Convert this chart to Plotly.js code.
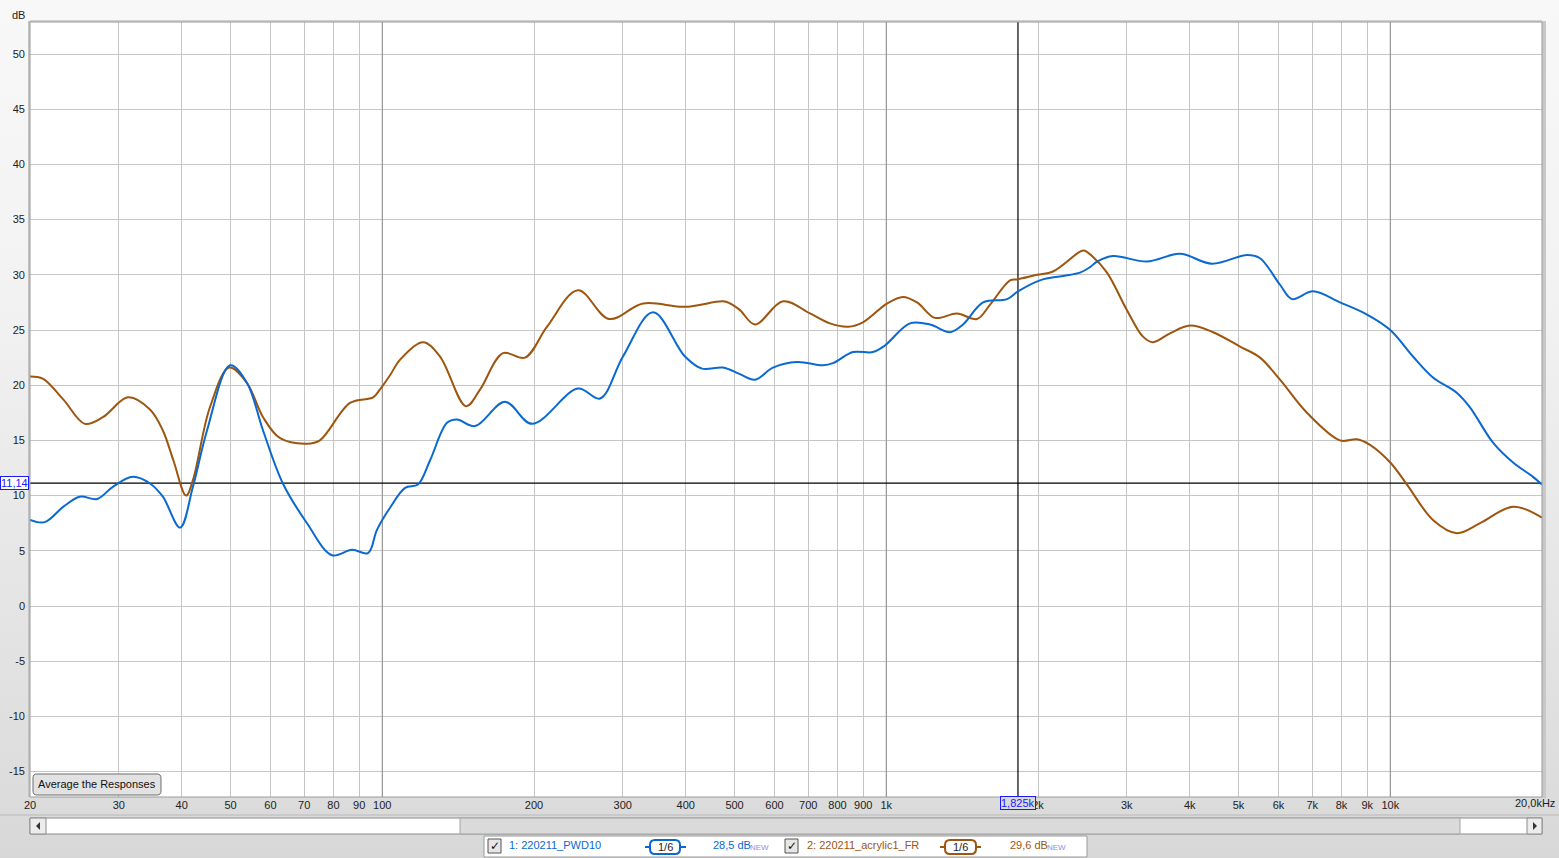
<!DOCTYPE html>
<html>
<head>
<meta charset="utf-8">
<script src="https://cdn.plot.ly/plotly-3.0.1.min.js"></script>
<style>
html,body{margin:0;padding:0;}
body{width:1559px;height:858px;overflow:hidden;
background:linear-gradient(to bottom,#f8f8f8 0px,#f2f2f2 300px,#dcdcdc 797px,#d7d7d7 858px);}
#chart{width:1559px;height:858px;}
</style>
</head>
<body>
<div id="chart"></div>
<script>
// ---- data ----
const blueName = "1: 220211_PWD10";
const brownName = "2: 220211_acrylic1_FR";
const blueFreq = [20, 21.4, 23.3, 25.1, 27.2, 29.2, 32.0, 34.6, 36.7, 39.7, 42.1, 44.9, 49.9, 53.9, 58.0, 63.5, 70.9, 79.5, 87.1, 93.7, 97.6, 103.6, 111, 117.7, 124.4, 134.4, 140.7, 152.8, 175.2, 198.2, 244.5, 270.4, 300.3, 344.5, 398.6, 430.9, 474.3, 512.5, 549, 596, 665, 749, 784, 859, 941, 994, 1114, 1221, 1338, 1420, 1556, 1736, 1825, 2018, 2242, 2423, 2537, 2619, 2817, 3291, 3826, 4429, 5198, 5515, 6042, 6383, 7025, 7948, 8992, 10000, 11092, 12152, 13563, 14392, 15989, 17525, 19195, 20000];
const blueDb = [7.8, 7.6, 9.0, 9.9, 9.7, 10.8, 11.7, 11.1, 9.9, 7.1, 10.8, 15.9, 21.8, 20.2, 15.9, 11.1, 7.5, 4.6, 5.1, 4.8, 6.9, 8.9, 10.7, 11.0, 13.2, 16.6, 16.9, 16.3, 18.5, 16.5, 19.7, 18.8, 22.6, 26.6, 22.6, 21.5, 21.6, 21.0, 20.5, 21.6, 22.1, 21.8, 22.0, 23.0, 23.0, 23.6, 25.6, 25.5, 24.8, 25.5, 27.5, 27.8, 28.5, 29.5, 29.9, 30.2, 30.7, 31.2, 31.7, 31.2, 31.9, 31.0, 31.8, 31.5, 29.1, 27.8, 28.5, 27.5, 26.4, 25.0, 22.6, 20.7, 19.3, 18.0, 14.8, 13.0, 11.7, 11.0];
const brownFreq = [20, 21.2, 23.3, 25.7, 27.9, 31.3, 34.6, 36.7, 38.5, 40.8, 42.1, 45.5, 49.7, 53.9, 58.0, 62.7, 70.9, 75.2, 86.3, 95.9, 98.9, 103.6, 108.4, 120.4, 130.2, 146.6, 156.3, 173.6, 191.9, 212.3, 244.5, 281.8, 329.2, 398.6, 474.3, 490, 512.5, 549, 624, 706, 773, 840, 899, 1003, 1079, 1151, 1249, 1381, 1514, 1607, 1760, 1825, 1991, 2142, 2423, 2470, 2560, 2741, 3003, 3231, 3382, 3656, 4005, 4450, 5034, 5515, 6042, 6835, 7948, 8589, 9115, 10000, 10792, 12152, 13563, 15068, 17525, 20000];
const brownDb = [20.8, 20.6, 18.7, 16.5, 17.1, 18.9, 17.8, 15.9, 13.2, 10.0, 11.4, 18.0, 21.6, 20.2, 17.1, 15.2, 14.7, 15.0, 18.4, 18.9, 19.6, 20.9, 22.3, 23.9, 22.6, 18.1, 19.6, 22.9, 22.5, 25.3, 28.6, 26.0, 27.4, 27.1, 27.6, 27.4, 26.8, 25.5, 27.6, 26.5, 25.6, 25.3, 25.7, 27.4, 28.0, 27.5, 26.1, 26.5, 26.0, 27.3, 29.5, 29.6, 30.0, 30.3, 32.1, 32.2, 31.7, 30.2, 26.8, 24.4, 23.9, 24.7, 25.4, 24.8, 23.5, 22.5, 20.5, 17.5, 15.0, 15.1, 14.6, 13.0, 11.0, 7.8, 6.6, 7.5, 9.0, 8.0];
const xTickVals = [20,30,40,50,60,70,80,90,100,200,300,400,500,600,700,800,900,1000,2000,3000,4000,5000,6000,7000,8000,9000,10000,20000];
const xTickText = ["20","30","40","50","60","70","80","90","100","200","300","400","500","600","700","800","900","1k","2k","3k","4k","5k","6k","7k","8k","9k","10k",""];
const yTickVals = [-15,-10,-5,0,5,10,15,20,25,30,35,40,45,50];
const yTickText = ["-15","-10","-5","0","5","10","15","20","25","30","35","40","45","50"];
const decadeFreqs = [100, 1000, 10000];
const cursorFreq = 1825;
const cursorDb = 11.14;
const cursorFreqLabel = "1,825k";
const cursorDbLabel = "11,14";
const blueLevel = "28,5 dB";
const brownLevel = "29,6 dB";
const smoothingLabel = "1/6";
const xRange = [20, 20000];
const yRange = [-17.3, 52.9];

// ---- styling / layout helpers ----
const BLUE = "#0a69d0", BROWN = "#9e550e";
const FONT = '"Liberation Sans", Arial, sans-serif';
const L = 30, R = 1542, T = 22, B = 797;
const px = x => (x - L) / (R - L);
const py = y => (B - y) / (B - T);

const traces = [];
decadeFreqs.forEach(f => traces.push({x:[f,f], y:yRange, mode:'lines', line:{color:'#8c8c8c', width:1}, hoverinfo:'skip', showlegend:false}));
traces.push({x:[cursorFreq,cursorFreq], y:yRange, mode:'lines', line:{color:'#000', width:1.2}, hoverinfo:'skip', showlegend:false});
traces.push({x:xRange, y:[cursorDb,cursorDb], mode:'lines', line:{color:'#000', width:1.2}, hoverinfo:'skip', showlegend:false});
traces.push({x:brownFreq, y:brownDb, name:brownName, mode:'lines', line:{color:BROWN, width:2, shape:'spline', smoothing:1}, showlegend:false});
traces.push({x:blueFreq, y:blueDb, name:blueName, mode:'lines', line:{color:BLUE, width:2, shape:'spline', smoothing:1}, showlegend:false});

function rectP(x0,y0,x1,y1,fill,line,lw,extra){
  return Object.assign({type:'rect', xref:'paper', yref:'paper', x0:px(x0), x1:px(x1), y0:py(y1), y1:py(y0),
    fillcolor:fill, line:{color:line, width:lw===undefined?1:lw}, layer:'above'}, extra||{});
}
function roundRect(x0,y0,x1,y1,r,fill,line,lw){
  const p = (x,y) => px(x).toFixed(5)+','+py(y).toFixed(5);
  const d = 'M'+p(x0+r,y0)+' L'+p(x1-r,y0)+' Q'+p(x1,y0)+' '+p(x1,y0+r)+' L'+p(x1,y1-r)+' Q'+p(x1,y1)+' '+p(x1-r,y1)+
            ' L'+p(x0+r,y1)+' Q'+p(x0,y1)+' '+p(x0,y1-r)+' L'+p(x0,y0+r)+' Q'+p(x0,y0)+' '+p(x0+r,y0)+' Z';
  return {type:'path', xref:'paper', yref:'paper', path:d, fillcolor:fill, line:{color:line, width:lw||1}, layer:'above'};
}
function lineP(x0,y0,x1,y1,color,w){
  return {type:'line', xref:'paper', yref:'paper', x0:px(x0), x1:px(x1), y0:py(y0), y1:py(y1), line:{color:color, width:w||1}, layer:'above'};
}
function txt(text,x,y,opts){
  return Object.assign({text:text, xref:'paper', yref:'paper', x:px(x), y:py(y), xanchor:'left', yanchor:'middle',
    showarrow:false, font:{family:FONT, size:11, color:'#222'}}, opts||{});
}

const shapes = [
  // plot frame with shadow
  rectP(L-2, T-1, L, B, '#c4c4c4', '#c4c4c4', 0),
  rectP(R, T-1, R+4, B+1, '#c8c8c8', '#c8c8c8', 0),
  rectP(L, T-2, R, T, '#d0d0d0', '#d0d0d0', 0),
  {type:'rect', xref:'paper', yref:'paper', x0:0, x1:1, y0:0, y1:1, line:{color:'#9a9a9a', width:1}, layer:'above'},
  // "Average the Responses" button
  roundRect(33, 774, 161, 795, 4, '#e2e2e2', '#6e6e6e', 1),
  // band separators at bottom
  lineP(0, 815, 1559, 815, '#b8b8b8', 1),
  // scrollbar
  rectP(30, 818, 1542, 834, '#ffffff', '#8c8c8c', 1),
  rectP(30, 818, 46, 834, '#ececec', '#8c8c8c', 1),
  rectP(460, 818, 1460, 834, '#dadada', '#a4a4a4', 1),
  rectP(1527, 818, 1542, 834, '#ececec', '#8c8c8c', 1),
  {type:'path', xref:'paper', yref:'paper', path:'M'+px(40)+','+py(822)+' L'+px(36)+','+py(826)+' L'+px(40)+','+py(830)+' Z', fillcolor:'#333', line:{width:0}, layer:'above'},
  {type:'path', xref:'paper', yref:'paper', path:'M'+px(1533)+','+py(822)+' L'+px(1537)+','+py(826)+' L'+px(1533)+','+py(830)+' Z', fillcolor:'#333', line:{width:0}, layer:'above'},
  // legend box
  rectP(484, 836, 1087, 857, '#ffffff', '#9a9a9a', 1),
  rectP(488, 839, 501, 853, '#e6e6e6', '#555555', 1),
  rectP(785, 839, 798, 853, '#e6e6e6', '#555555', 1),
  lineP(645, 847, 686, 847, BLUE, 2),
  roundRect(650, 840, 680, 854, 5, '#ffffff', BLUE, 2),
  lineP(940, 847, 981, 847, BROWN, 2),
  roundRect(945, 840, 976, 854, 5, '#ffffff', BROWN, 2)
];

const annotations = [
  txt('dB', 18, 15, {xanchor:'center'}),
  txt('Average the Responses', 97, 784, {xanchor:'center', font:{family:FONT, size:11, color:'#111'}}),
  txt('20,0kHz', 1557, 803, {xanchor:'right'}),
  // cursor labels
  {text:cursorFreqLabel, xref:'x', yref:'paper', x:Math.log10(cursorFreq), y:py(803), xanchor:'center', yanchor:'middle',
   showarrow:false, font:{family:FONT, size:11, color:'#1a1aff'}, bgcolor:'#dadada', bordercolor:'#1a1aff', borderwidth:1, borderpad:0},
  {text:cursorDbLabel, xref:'paper', yref:'y', x:0, y:cursorDb, xanchor:'right', yanchor:'middle', xshift:-1,
   showarrow:false, font:{family:FONT, size:11, color:'#1a1aff'}, bgcolor:'#ffffff', bordercolor:'#1a1aff', borderwidth:1, borderpad:0},
  // legend texts
  txt('✓', 494.5, 846, {xanchor:'center', font:{family:'DejaVu Sans', size:12, color:'#111'}}),
  txt('✓', 791.5, 846, {xanchor:'center', font:{family:'DejaVu Sans', size:12, color:'#111'}}),
  txt(blueName, 507, 845, {font:{family:FONT, size:11, color:BLUE}}),
  txt(smoothingLabel, 665, 847, {xanchor:'center', font:{family:FONT, size:11, color:'#222'}}),
  txt(blueLevel, 711, 845, {font:{family:FONT, size:11, color:BLUE}}),
  txt('NEW', 748, 847, {font:{family:FONT, size:8, color:'#8c8cf0'}}),
  txt(brownName, 805, 845, {font:{family:FONT, size:11, color:BROWN}}),
  txt(smoothingLabel, 960.5, 847, {xanchor:'center', font:{family:FONT, size:11, color:'#222'}}),
  txt(brownLevel, 1008, 845, {font:{family:FONT, size:11, color:BROWN}}),
  txt('NEW', 1045, 847, {font:{family:FONT, size:8, color:'#8c8cf0'}})
];

const layout = {
  width:1559, height:858,
  margin:{l:L, r:1559-R, t:T, b:858-B, pad:0},
  paper_bgcolor:'rgba(0,0,0,0)', plot_bgcolor:'#ffffff',
  font:{family:FONT, size:11, color:'#222'},
  showlegend:false,
  xaxis:{type:'log', range:[Math.log10(xRange[0]), Math.log10(xRange[1])], tickmode:'array', tickvals:xTickVals, ticktext:xTickText,
    showgrid:true, gridcolor:'#c6c6c6', gridwidth:1, zeroline:false, showline:false, ticks:'', ticklabelstandoff:0,
    tickfont:{family:FONT, size:11, color:'#222'}, fixedrange:true},
  yaxis:{range:yRange, tickmode:'array', tickvals:yTickVals, ticktext:yTickText, showgrid:true, gridcolor:'#c6c6c6', gridwidth:1,
    zeroline:false, showline:false, ticks:'', ticklabelstandoff:4, tickfont:{family:FONT, size:11, color:'#222'}, fixedrange:true},
  shapes:shapes, annotations:annotations
};

Plotly.newPlot('chart', traces, layout, {staticPlot:true, displayModeBar:false});
</script>
</body>
</html>
